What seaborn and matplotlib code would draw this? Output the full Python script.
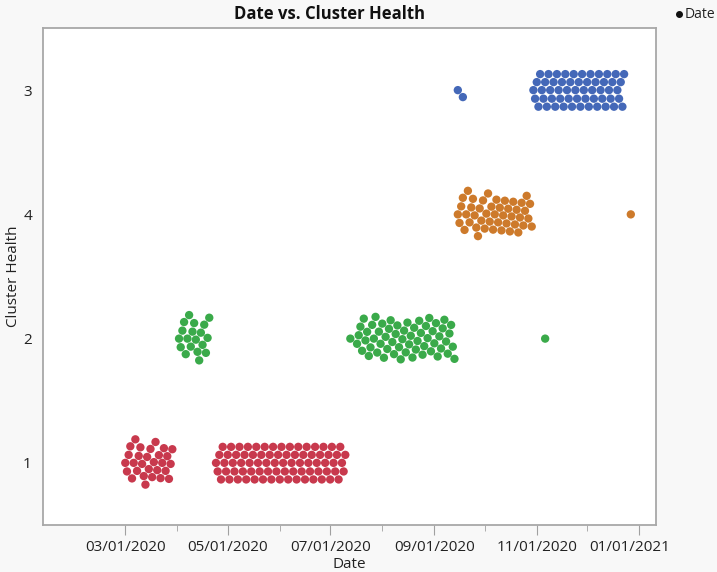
import matplotlib
matplotlib.use("Agg")
import matplotlib.pyplot as plt
import matplotlib.dates as mdates
import matplotlib.transforms as mtransforms
from matplotlib.lines import Line2D
import pandas as pd
import seaborn as sns

# Runs of consecutive days that share one cluster-health state
run_health = ["1", "2", "1", "2", "2", "3", "3", "4", "3", "2", "4"]
run_start = ["2020-03-01", "2020-04-02", "2020-04-24", "2020-07-13", "2020-07-17",
             "2020-09-15", "2020-09-18", "2020-09-15", "2020-10-30", "2020-11-06",
             "2020-12-27"]
run_end = ["2020-03-29", "2020-04-20", "2020-07-10", "2020-07-13", "2020-09-13",
           "2020-09-15", "2020-09-18", "2020-10-29", "2020-12-23", "2020-11-06",
           "2020-12-27"]

health_order = ["3", "4", "2", "1"]
health_colors = {"3": "#4468B8", "4": "#CD7A2B", "2": "#3AAA4A", "1": "#C8394D"}

rows = []
for h, s, e in zip(run_health, run_start, run_end):
    for d in pd.date_range(s, e, freq="D"):
        rows.append({"Date": d, "Cluster Health": h})
df = pd.DataFrame(rows)
df["DateNum"] = mdates.date2num(df["Date"])

plt.rcParams["font.family"] = ["Open Sans", "DejaVu Sans"]

fig = plt.figure(figsize=(7.17, 5.72), dpi=100, facecolor="#f8f8f8")
ax = fig.add_axes([43 / 717, 1 - 525 / 572, (656 - 43) / 717, (525 - 28) / 572])
ax.set_facecolor("white")

sns.swarmplot(data=df, x="DateNum", y="Cluster Health", order=health_order,
              hue="Cluster Health", hue_order=health_order, palette=health_colors,
              size=6.0, linewidth=0, legend=False, orient="h", ax=ax)

ax.set_xlim(mdates.date2num(pd.Timestamp("2020-01-12")),
            mdates.date2num(pd.Timestamp("2021-01-11")))
ax.set_ylim(3.5, -0.5)

major = [pd.Timestamp(d) for d in ["2020-03-01", "2020-05-01", "2020-07-01",
                                   "2020-09-01", "2020-11-01", "2021-01-01"]]
minor = [pd.Timestamp(d) for d in ["2020-01-01", "2020-04-01", "2020-06-01",
                                   "2020-08-01", "2020-10-01", "2020-12-01"]]
ax.set_xticks(mdates.date2num(major))
ax.set_xticks([m for m in mdates.date2num(minor) if m >= ax.get_xlim()[0]], minor=True)
ax.xaxis.set_major_formatter(mdates.DateFormatter("%m/%d/%Y"))
ax.tick_params(axis="x", which="major", length=7, color="#a0a0a0", labelsize=11,
               labelcolor="#222222", pad=4)
ax.tick_params(axis="x", which="minor", length=4, color="#a0a0a0")
ax.tick_params(axis="y", length=0, labelsize=11, labelcolor="#222222", pad=8)

# keep the last date label inside the figure
fig.canvas.draw()
last = ax.get_xticklabels()[-1]
last.set_transform(last.get_transform() +
                   mtransforms.ScaledTranslation(-10 / 100, 0, fig.dpi_scale_trans))

for sp in ax.spines.values():
    sp.set_color("#a8a8a8")
    sp.set_linewidth(1.3)

ax.set_xlabel("Date", fontsize=11, color="#222222", labelpad=1)
ax.set_ylabel("Cluster Health", fontsize=11, color="#222222")
ax.yaxis.set_label_coords(14 / 717, 0.5 * (1 - 525 / 572 + 1 - 28 / 572),
                          transform=fig.transFigure)
ax.yaxis.label.set_va("center")

fig.text(329 / 717, 1 - 14 / 572, "Date vs. Cluster Health", ha="center", va="center",
         fontsize=12, fontweight="bold", color="#111111")

# legend entry in the top-right corner
fig.add_artist(Line2D([679 / 717], [1 - 14 / 572], marker="o", markersize=4,
                      color="#111111", linestyle="none", transform=fig.transFigure))
fig.text(685 / 717, 1 - 14 / 572, "Date", ha="left", va="center", fontsize=10,
         color="#222222")

fig.savefig("out.png", dpi=100, facecolor=fig.get_facecolor())
